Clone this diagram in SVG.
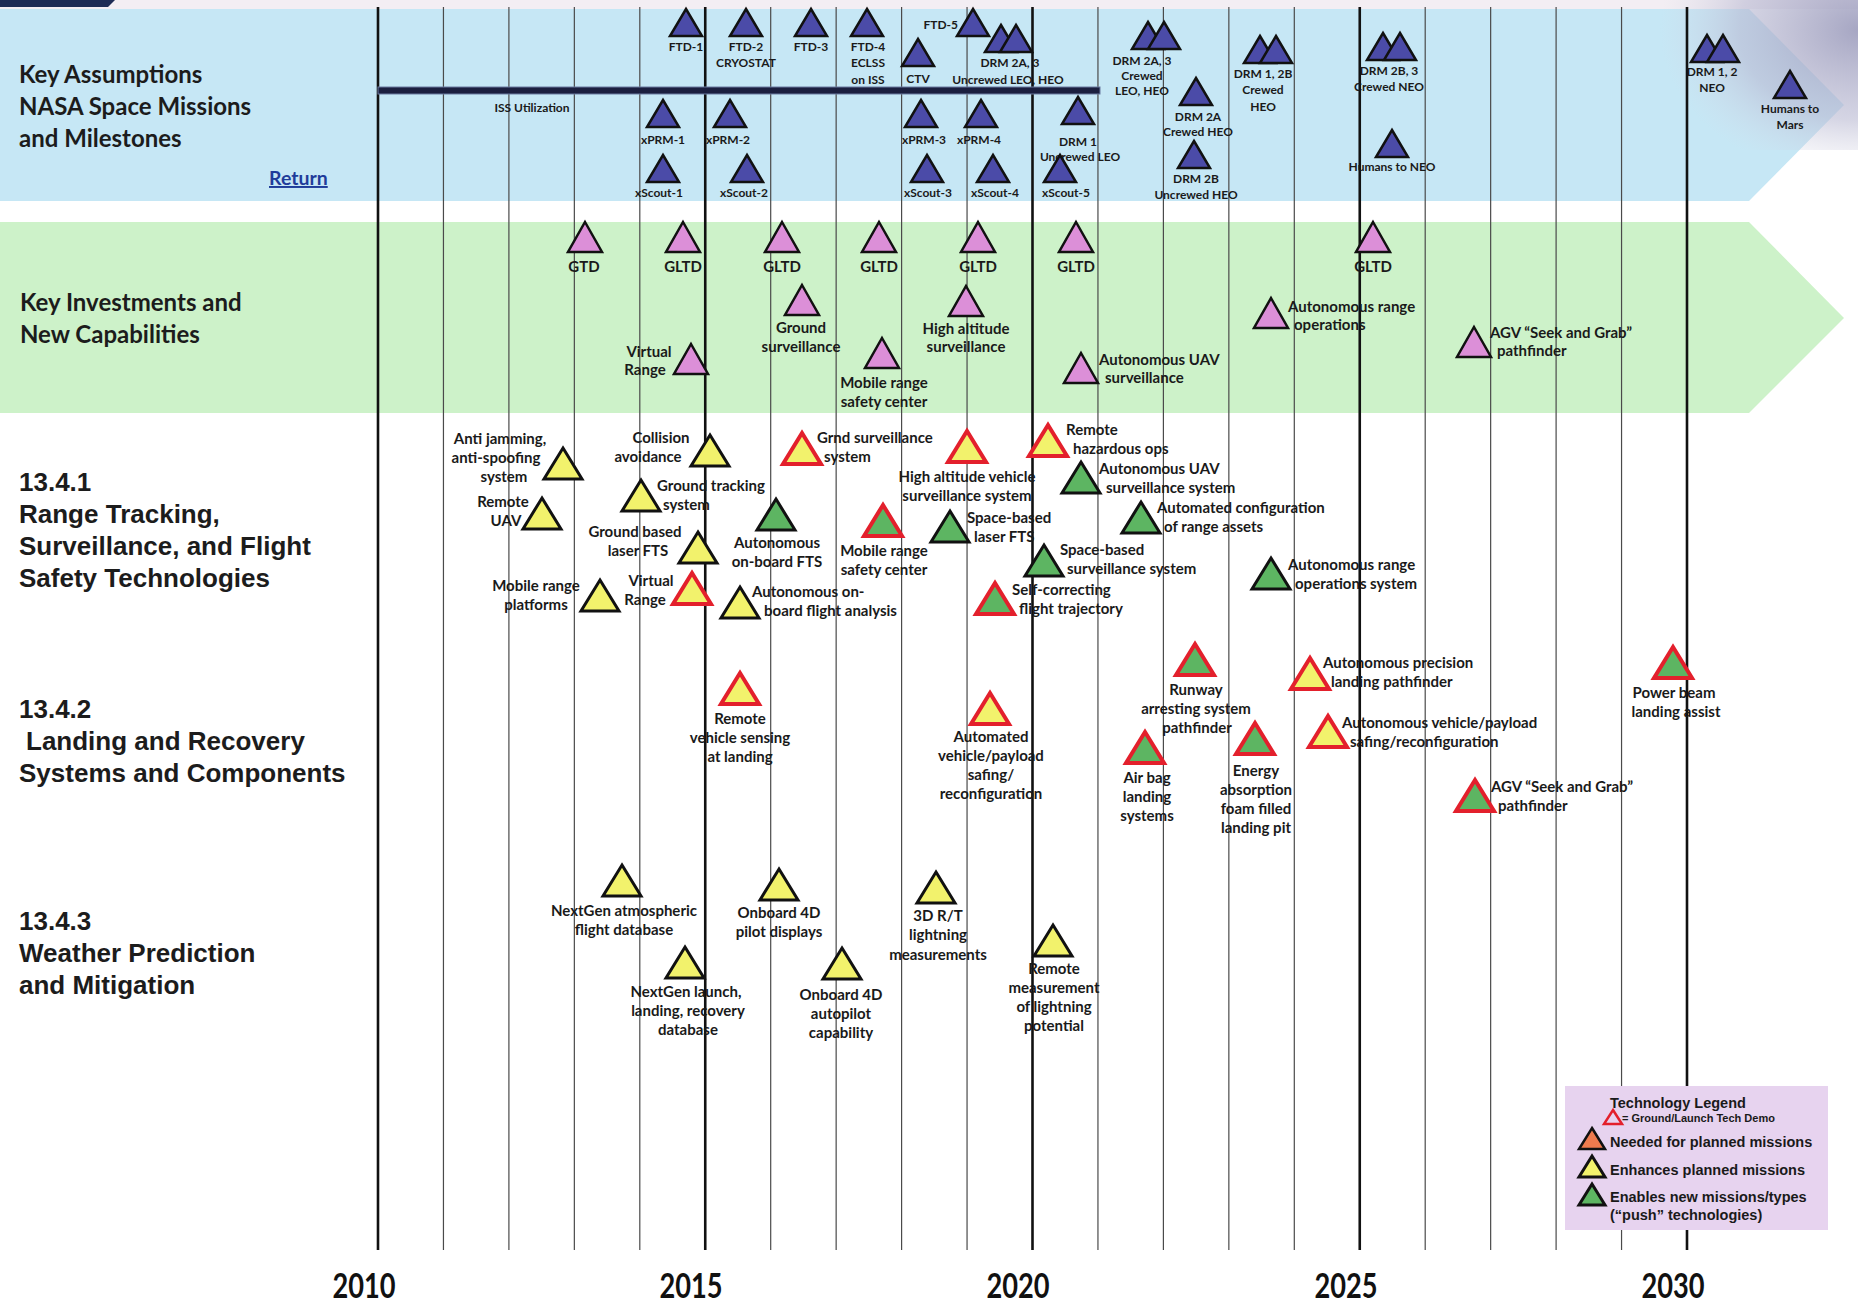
<svg xmlns="http://www.w3.org/2000/svg" xmlns:xlink="http://www.w3.org/1999/xlink" width="1858" height="1302" viewBox="0 0 1858 1302">
<style>
.bl{fill:#4b4ba8;stroke:#111;stroke-width:2.5;stroke-linejoin:miter}
.pk{fill:#dc8fd8;stroke:#111;stroke-width:2.5}
.yl{fill:#f2f26c;stroke:#111;stroke-width:3}
.gn{fill:#5db562;stroke:#111;stroke-width:3}
.ry{fill:#f2f26c;stroke:#e3202c;stroke-width:4}
.rg{fill:#5db562;stroke:#e3202c;stroke-width:4}
.or{fill:#ee7b4e;stroke:#111;stroke-width:2.5}
.hol{fill:none;stroke:#e3202c;stroke-width:2.5}
text{font-family:Lato,"Open Sans","Liberation Sans",sans-serif;font-weight:700;fill:#1a1a1a}
.s{font-size:12px}
.m{font-size:15px}
.c{text-anchor:middle}
.h{font-size:24px;fill:#1c1c1c}
.sec{font-family:"Liberation Sans",Arial,sans-serif;font-size:26px;fill:#1c1c1c}
.yr{font-size:34px;text-anchor:middle;fill:#111}
.lg{font-family:"Liberation Sans",Arial,sans-serif;font-size:14.5px;fill:#1a1a1a}
.lgs{font-family:"Liberation Sans",Arial,sans-serif;font-size:11px;fill:#1a1a1a}
.thin{stroke:#4a4a4a;stroke-width:1.2}
.thick{stroke:#111;stroke-width:2.6}
</style>
<defs>
<polygon id="tb" points="0,-14 16,13 -16,13"/>
<polygon id="tp" points="0,-15 17,15 -17,15"/>
<polygon id="ts" points="0,-16 19,15 -19,15"/>
<polygon id="tl" points="0,-11 13,10 -13,10"/>
<polygon id="th" points="0,-7 9,7 -9,7"/>
<radialGradient id="sp" cx="1" cy="0.2" r="1">
<stop offset="0" stop-color="#9c9cbc" stop-opacity="0.9"/>
<stop offset="0.6" stop-color="#b9b9d2" stop-opacity="0.6"/>
<stop offset="1" stop-color="#d8d8e6" stop-opacity="0"/>
</radialGradient>
</defs>

<rect x="0" y="0" width="1858" height="1302" fill="#ffffff"/>

<g id="bands">
<rect x="0" y="0" width="1858" height="9" fill="#f3eef3"/>
<polygon points="0,0 115,0 108,7 0,7" fill="#1d2b55"/>
<polygon points="0,9 1749,9 1844,105 1749,201 0,201" fill="#c6e7f5"/>
<polygon points="0,222 1749,222 1844,318 1749,413 0,413" fill="#cdf2c9"/>
<rect x="1660" y="0" width="198" height="150" fill="url(#sp)"/>
</g>

<g id="grid">
<line class="thick" x1="378" y1="7" x2="378" y2="1250"/>
<line class="thin" x1="443.45" y1="7" x2="443.45" y2="1250"/>
<line class="thin" x1="508.9" y1="7" x2="508.9" y2="1250"/>
<line class="thin" x1="574.35" y1="7" x2="574.35" y2="1250"/>
<line class="thin" x1="639.8" y1="7" x2="639.8" y2="1250"/>
<line class="thick" x1="705.25" y1="7" x2="705.25" y2="1250"/>
<line class="thin" x1="770.7" y1="7" x2="770.7" y2="1250"/>
<line class="thin" x1="836.15" y1="7" x2="836.15" y2="1250"/>
<line class="thin" x1="901.6" y1="7" x2="901.6" y2="1250"/>
<line class="thin" x1="967.05" y1="7" x2="967.05" y2="1250"/>
<line class="thick" x1="1032.5" y1="7" x2="1032.5" y2="1250"/>
<line class="thin" x1="1097.95" y1="7" x2="1097.95" y2="1250"/>
<line class="thin" x1="1163.4" y1="7" x2="1163.4" y2="1250"/>
<line class="thin" x1="1228.85" y1="7" x2="1228.85" y2="1250"/>
<line class="thin" x1="1294.3" y1="7" x2="1294.3" y2="1250"/>
<line class="thick" x1="1359.75" y1="7" x2="1359.75" y2="1250"/>
<line class="thin" x1="1425.2" y1="7" x2="1425.2" y2="1250"/>
<line class="thin" x1="1490.65" y1="7" x2="1490.65" y2="1250"/>
<line class="thin" x1="1556.1" y1="7" x2="1556.1" y2="1250"/>
<line class="thin" x1="1621.55" y1="7" x2="1621.55" y2="1250"/>
<line class="thick" x1="1687" y1="7" x2="1687" y2="1250"/>
</g>

<g id="years">
<text class="yr" transform="translate(364,1298) scale(0.8,1)">2010</text>
<text class="yr" transform="translate(691,1298) scale(0.8,1)">2015</text>
<text class="yr" transform="translate(1018,1298) scale(0.8,1)">2020</text>
<text class="yr" transform="translate(1346,1298) scale(0.8,1)">2025</text>
<text class="yr" transform="translate(1673,1298) scale(0.8,1)">2030</text>
</g>

<g id="headings">
<text class="h" x="19" y="83">Key Assumptions</text>
<text class="h" x="19" y="115">NASA Space Missions</text>
<text class="h" x="19" y="147">and Milestones</text>
<text x="269" y="185" font-size="19.5" fill="#1f3c9a" style="fill:#1f3c9a" text-decoration="underline">Return</text>
<text class="h" x="20" y="311">Key Investments and</text>
<text class="h" x="20" y="343">New Capabilities</text>
<text class="sec" x="19" y="491">13.4.1</text>
<text class="sec" x="19" y="523">Range Tracking,</text>
<text class="sec" x="19" y="555">Surveillance, and Flight</text>
<text class="sec" x="19" y="587">Safety Technologies</text>
<text class="sec" x="19" y="718">13.4.2</text>
<text class="sec" x="26" y="750">Landing and Recovery</text>
<text class="sec" x="19" y="782">Systems and Components</text>
<text class="sec" x="19" y="930">13.4.3</text>
<text class="sec" x="19" y="962">Weather Prediction</text>
<text class="sec" x="19" y="994">and Mitigation</text>
</g>

<g id="connectors">
<rect x="378" y="87" width="722" height="7" fill="#1b1f3f" stroke="#6a7aa0" stroke-width="1"/>
<text class="s c" x="532" y="112">ISS Utilization</text>
</g>

<g id="missions">
<g id="ftd1"><use href="#tb" class="bl" x="686" y="23"/><text class="s c" x="686" y="51">FTD-1</text></g>
<g id="ftd2"><use href="#tb" class="bl" x="746" y="23"/><text class="s c" x="746" y="51">FTD-2</text><text class="s c" x="746" y="67">CRYOSTAT</text></g>
<g id="ftd3"><use href="#tb" class="bl" x="811" y="23"/><text class="s c" x="811" y="51">FTD-3</text></g>
<g id="ftd4"><use href="#tb" class="bl" x="867" y="23"/><text class="s c" x="868" y="51">FTD-4</text><text class="s c" x="868" y="67">ECLSS</text><text class="s c" x="868" y="84">on ISS</text></g>
<g id="ctv"><use href="#tb" class="bl" x="918" y="53"/><text class="s c" x="918" y="83">CTV</text></g>
<g id="ftd5"><use href="#tb" class="bl" x="973" y="23"/><text class="s" x="958" y="29" text-anchor="end">FTD-5</text></g>
<g id="drm2a3u"><use href="#tb" class="bl" x="1001" y="39"/><use href="#tb" class="bl" x="1016" y="39"/><text class="s c" x="1010" y="67">DRM 2A, 3</text><text class="s c" x="1008" y="84">Uncrewed LEO, HEO</text></g>
<g id="xprm1"><use href="#tb" class="bl" x="663" y="114"/><text class="s c" x="663" y="144">xPRM-1</text></g>
<g id="xprm2"><use href="#tb" class="bl" x="730" y="114"/><text class="s c" x="728" y="144">xPRM-2</text></g>
<g id="xprm3"><use href="#tb" class="bl" x="921" y="114"/><text class="s c" x="924" y="144">xPRM-3</text></g>
<g id="xprm4"><use href="#tb" class="bl" x="981" y="114"/><text class="s c" x="979" y="144">xPRM-4</text></g>
<g id="drm1"><use href="#tb" class="bl" x="1078" y="111"/><text class="s c" x="1078" y="146">DRM 1</text><text class="s c" x="1080" y="161">Uncrewed LEO</text></g>
<g id="xs1"><use href="#tb" class="bl" x="663" y="169"/><text class="s c" x="659" y="197">xScout-1</text></g>
<g id="xs2"><use href="#tb" class="bl" x="747" y="169"/><text class="s c" x="744" y="197">xScout-2</text></g>
<g id="xs3"><use href="#tb" class="bl" x="927" y="169"/><text class="s c" x="928" y="197">xScout-3</text></g>
<g id="xs4"><use href="#tb" class="bl" x="993" y="169"/><text class="s c" x="995" y="197">xScout-4</text></g>
<g id="xs5"><use href="#tb" class="bl" x="1060" y="169"/><text class="s c" x="1066" y="197">xScout-5</text></g>
<g id="drm2a3c"><use href="#tb" class="bl" x="1148" y="36"/><use href="#tb" class="bl" x="1164" y="36"/><text class="s c" x="1142" y="65">DRM 2A, 3</text><text class="s c" x="1142" y="80">Crewed</text><text class="s c" x="1142" y="95">LEO, HEO</text></g>
<g id="drm2a"><use href="#tb" class="bl" x="1196" y="92"/><text class="s c" x="1198" y="121">DRM 2A</text><text class="s c" x="1198" y="136">Crewed HEO</text></g>
<g id="drm2b"><use href="#tb" class="bl" x="1194" y="155"/><text class="s c" x="1196" y="183">DRM 2B</text><text class="s c" x="1196" y="199">Uncrewed HEO</text></g>
<g id="drm12b"><use href="#tb" class="bl" x="1260" y="50"/><use href="#tb" class="bl" x="1276" y="50"/><text class="s c" x="1263" y="78">DRM 1, 2B</text><text class="s c" x="1263" y="94">Crewed</text><text class="s c" x="1263" y="111">HEO</text></g>
<g id="drm2b3"><use href="#tb" class="bl" x="1383" y="47"/><use href="#tb" class="bl" x="1400" y="47"/><text class="s c" x="1389" y="75">DRM 2B, 3</text><text class="s c" x="1389" y="91">Crewed NEO</text></g>
<g id="hneo"><use href="#tb" class="bl" x="1392" y="144"/><text class="s c" x="1392" y="171">Humans to NEO</text></g>
<g id="drm12"><use href="#tb" class="bl" x="1707" y="49"/><use href="#tb" class="bl" x="1723" y="49"/><text class="s c" x="1712" y="76">DRM 1, 2</text><text class="s c" x="1712" y="92">NEO</text></g>
<g id="hmars"><use href="#tb" class="bl" x="1790" y="85"/><text class="s c" x="1790" y="113">Humans to</text><text class="s c" x="1790" y="129">Mars</text></g>
</g>

<g id="investments">
<g id="gtd"><use href="#tp" class="pk" x="585" y="237"/><text class="m c" x="584" y="272">GTD</text></g>
<g id="gltd1"><use href="#tp" class="pk" x="683" y="237"/><text class="m c" x="683" y="272">GLTD</text></g>
<g id="gltd2"><use href="#tp" class="pk" x="782" y="237"/><text class="m c" x="782" y="272">GLTD</text></g>
<g id="gltd3"><use href="#tp" class="pk" x="879" y="237"/><text class="m c" x="879" y="272">GLTD</text></g>
<g id="gltd4"><use href="#tp" class="pk" x="978" y="237"/><text class="m c" x="978" y="272">GLTD</text></g>
<g id="gltd5"><use href="#tp" class="pk" x="1076" y="237"/><text class="m c" x="1076" y="272">GLTD</text></g>
<g id="gltd6"><use href="#tp" class="pk" x="1373" y="237"/><text class="m c" x="1373" y="272">GLTD</text></g>
<g id="gsurv"><use href="#tp" class="pk" x="802" y="300"/><text class="m c" x="801" y="333">Ground</text><text class="m c" x="801" y="352">surveillance</text></g>
<g id="vrange"><use href="#tp" class="pk" x="691" y="359"/><text class="m c" x="649" y="357">Virtual</text><text class="m c" x="645" y="375">Range</text></g>
<g id="mrsc"><use href="#tp" class="pk" x="882" y="353"/><text class="m c" x="884" y="388">Mobile range</text><text class="m c" x="884" y="407">safety center</text></g>
<g id="hasurv"><use href="#tp" class="pk" x="966" y="301"/><text class="m c" x="966" y="334">High altitude</text><text class="m c" x="966" y="352">surveillance</text></g>
<g id="auavs"><use href="#tp" class="pk" x="1081" y="368"/><text class="m" x="1099" y="365">Autonomous UAV</text><text class="m" x="1105" y="383">surveillance</text></g>
<g id="arops"><use href="#tp" class="pk" x="1271" y="313"/><text class="m" x="1288" y="312">Autonomous range</text><text class="m" x="1294" y="330">operations</text></g>
<g id="agv1"><use href="#tp" class="pk" x="1474" y="342"/><text class="m" x="1490" y="338">AGV “Seek and Grab”</text><text class="m" x="1497" y="356">pathfinder</text></g>
</g>

<g id="s1341">
<g id="antijam"><use href="#ts" class="yl" x="563" y="464"/><text class="m c" x="500" y="444">Anti jamming,</text><text class="m c" x="496" y="463">anti-spoofing</text><text class="m c" x="504" y="482">system</text></g>
<g id="ruav"><use href="#ts" class="yl" x="542" y="514"/><text class="m c" x="503" y="507">Remote</text><text class="m c" x="506" y="526">UAV</text></g>
<g id="mrp"><use href="#ts" class="yl" x="600" y="596"/><text class="m c" x="536" y="591">Mobile range</text><text class="m c" x="536" y="610">platforms</text></g>
<g id="coll"><use href="#ts" class="yl" x="710" y="451"/><text class="m c" x="661" y="443">Collision</text><text class="m c" x="648" y="462">avoidance</text></g>
<g id="gts"><use href="#ts" class="yl" x="641" y="496"/><text class="m" x="657" y="491">Ground tracking</text><text class="m" x="663" y="510">system</text></g>
<g id="gblf"><use href="#ts" class="yl" x="698" y="548"/><text class="m c" x="635" y="537">Ground based</text><text class="m c" x="638" y="556">laser FTS</text></g>
<g id="vr2"><use href="#ts" class="ry" x="692" y="589"/><text class="m c" x="651" y="586">Virtual</text><text class="m c" x="645" y="605">Range</text></g>
<g id="aofts"><use href="#ts" class="gn" x="776" y="515"/><text class="m c" x="777" y="548">Autonomous</text><text class="m c" x="777" y="567">on-board FTS</text></g>
<g id="aofa"><use href="#ts" class="yl" x="740" y="603"/><text class="m" x="752" y="597">Autonomous on-</text><text class="m" x="764" y="616">board flight analysis</text></g>
<g id="grnd"><use href="#ts" class="ry" x="802" y="449"/><text class="m" x="817" y="443">Grnd surveillance</text><text class="m" x="824" y="462">system</text></g>
<g id="mrsc2"><use href="#ts" class="rg" x="883" y="521"/><text class="m c" x="884" y="556">Mobile range</text><text class="m c" x="884" y="575">safety center</text></g>
<g id="havs"><use href="#ts" class="ry" x="967" y="447"/><text class="m c" x="967" y="482">High altitude vehicle</text><text class="m c" x="967" y="501">surveillance system</text></g>
<g id="sblf"><use href="#ts" class="gn" x="950" y="527"/><text class="m" x="967" y="523">Space-based</text><text class="m" x="974" y="542">laser FTS</text></g>
<g id="rho"><use href="#ts" class="ry" x="1048" y="441"/><text class="m" x="1066" y="435">Remote</text><text class="m" x="1073" y="454">hazardous ops</text></g>
<g id="auavss"><use href="#ts" class="gn" x="1081" y="478"/><text class="m" x="1099" y="474">Autonomous UAV</text><text class="m" x="1106" y="493">surveillance system</text></g>
<g id="sbss"><use href="#ts" class="gn" x="1044" y="561"/><text class="m" x="1060" y="555">Space-based</text><text class="m" x="1067" y="574">surveillance system</text></g>
<g id="scft"><use href="#ts" class="rg" x="995" y="599"/><text class="m" x="1012" y="595">Self-correcting</text><text class="m" x="1019" y="614">flight trajectory</text></g>
<g id="acra"><use href="#ts" class="gn" x="1141" y="518"/><text class="m" x="1157" y="513">Automated configuration</text><text class="m" x="1164" y="532">of range assets</text></g>
<g id="aros"><use href="#ts" class="gn" x="1271" y="574"/><text class="m" x="1288" y="570">Autonomous range</text><text class="m" x="1295" y="589">operations system</text></g>
</g>

<g id="s1342">
<g id="rvsl"><use href="#ts" class="ry" x="740" y="689"/><text class="m c" x="740" y="724">Remote</text><text class="m c" x="740" y="743">vehicle sensing</text><text class="m c" x="740" y="762">at landing</text></g>
<g id="avps"><use href="#ts" class="ry" x="990" y="709"/><text class="m c" x="991" y="742">Automated</text><text class="m c" x="991" y="761">vehicle/payload</text><text class="m c" x="991" y="780">safing/</text><text class="m c" x="991" y="799">reconfiguration</text></g>
<g id="rasp"><use href="#ts" class="rg" x="1195" y="660"/><text class="m c" x="1196" y="695">Runway</text><text class="m c" x="1196" y="714">arresting system</text><text class="m c" x="1197" y="733">pathfinder</text></g>
<g id="abls"><use href="#ts" class="rg" x="1145" y="748"/><text class="m c" x="1147" y="783">Air bag</text><text class="m c" x="1147" y="802">landing</text><text class="m c" x="1147" y="821">systems</text></g>
<g id="eafp"><use href="#ts" class="rg" x="1255" y="739"/><text class="m c" x="1256" y="776">Energy</text><text class="m c" x="1256" y="795">absorption</text><text class="m c" x="1256" y="814">foam filled</text><text class="m c" x="1256" y="833">landing pit</text></g>
<g id="aplp"><use href="#ts" class="ry" x="1310" y="674"/><text class="m" x="1323" y="668">Autonomous precision</text><text class="m" x="1331" y="687">landing pathfinder</text></g>
<g id="avpsr"><use href="#ts" class="ry" x="1328" y="732"/><text class="m" x="1342" y="728">Autonomous vehicle/payload</text><text class="m" x="1350" y="747">safing/reconfiguration</text></g>
<g id="agv2"><use href="#ts" class="rg" x="1475" y="796"/><text class="m" x="1491" y="792">AGV “Seek and Grab”</text><text class="m" x="1498" y="811">pathfinder</text></g>
<g id="pbla"><use href="#ts" class="rg" x="1673" y="663"/><text class="m c" x="1674" y="698">Power beam</text><text class="m c" x="1676" y="717">landing assist</text></g>
</g>

<g id="s1343">
<g id="ngafd"><use href="#ts" class="yl" x="622" y="881"/><text class="m c" x="624" y="916">NextGen atmospheric</text><text class="m c" x="624" y="935">flight database</text></g>
<g id="nglr"><use href="#ts" class="yl" x="685" y="963"/><text class="m c" x="686" y="997">NextGen launch,</text><text class="m c" x="688" y="1016">landing, recovery</text><text class="m c" x="688" y="1035">database</text></g>
<g id="o4pd"><use href="#ts" class="yl" x="779" y="885"/><text class="m c" x="779" y="918">Onboard 4D</text><text class="m c" x="779" y="937">pilot displays</text></g>
<g id="o4ac"><use href="#ts" class="yl" x="842" y="964"/><text class="m c" x="841" y="1000">Onboard 4D</text><text class="m c" x="841" y="1019">autopilot</text><text class="m c" x="841" y="1038">capability</text></g>
<g id="rtlm"><use href="#ts" class="yl" x="936" y="888"/><text class="m c" x="938" y="921">3D R/T</text><text class="m c" x="938" y="940">lightning</text><text class="m c" x="938" y="960">measurements</text></g>
<g id="rmlp"><use href="#ts" class="yl" x="1053" y="941"/><text class="m c" x="1054" y="974">Remote</text><text class="m c" x="1054" y="993">measurement</text><text class="m c" x="1054" y="1012">of lightning</text><text class="m c" x="1054" y="1031">potential</text></g>
</g>

<g id="legend">
<rect x="1565" y="1086" width="263" height="144" fill="#e7d3ef"/>
<text class="lg" x="1610" y="1108">Technology Legend</text>
<use href="#th" class="hol" x="1613" y="1117"/>
<text class="lgs" x="1622" y="1122">= Ground/Launch Tech Demo</text>
<use href="#tl" class="or" x="1592" y="1139"/>
<text class="lg" x="1610" y="1147">Needed for planned missions</text>
<use href="#tl" class="yl" x="1592" y="1167"/>
<text class="lg" x="1610" y="1175">Enhances planned missions</text>
<use href="#tl" class="gn" x="1592" y="1195"/>
<text class="lg" x="1610" y="1202">Enables new missions/types</text>
<text class="lg" x="1610" y="1220">(“push” technologies)</text>
</g>
</svg>
